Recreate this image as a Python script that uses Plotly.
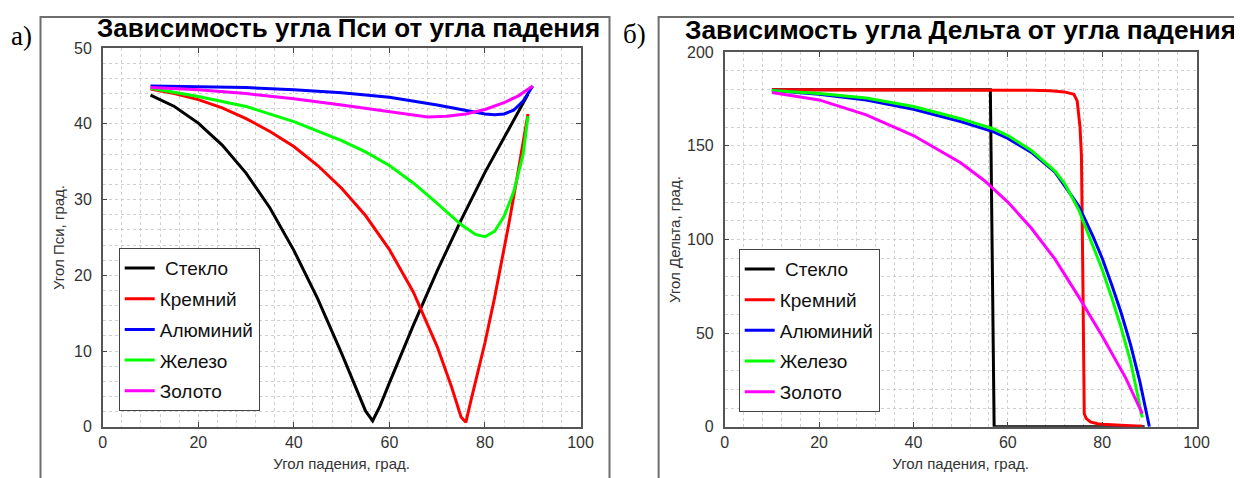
import plotly.graph_objects as go

W, H = 1242, 478

# ---------------- data: Psi (left panel) ----------------
names = ["\u00a0Стекло", "Кремний", "Алюминий", "Железо", "Золото"]
colors = ["#000000", "#ff0000", "#0000ff", "#00ff00", "#ff00ff"]

psi_x_glass = [10, 15, 20, 25, 30, 35, 40, 45, 50, 53, 55, 56.5, 58, 60, 65, 70, 75, 80, 85, 89]
psi_glass = [43.8, 42.3, 40.1, 37.2, 33.5, 28.9, 23.3, 16.9, 9.7, 5.1, 2.1, 0.8, 2.7, 5.8, 13.4, 20.6, 27.3, 33.6, 39.4, 43.9]

psi_x_si = [10, 15, 20, 25, 30, 35, 40, 45, 50, 55, 60, 65, 70, 73, 75, 76, 77, 78, 80, 82, 85, 87, 89]
psi_si = [44.6, 44.0, 43.2, 42.1, 40.7, 39.0, 37.0, 34.5, 31.5, 27.9, 23.4, 17.8, 10.6, 5.3, 1.3, 0.6, 3.3, 5.8, 11.1, 17.0, 26.8, 33.9, 41.3]

psi_x_al = [10, 20, 30, 40, 50, 60, 65, 70, 75, 78, 80, 82, 84, 86, 88, 90]
psi_al = [45.0, 44.9, 44.8, 44.5, 44.1, 43.5, 43.0, 42.5, 41.9, 41.5, 41.3, 41.2, 41.3, 41.8, 43.0, 45.0]

psi_x_fe = [10, 20, 30, 40, 50, 55, 60, 65, 70, 75, 78, 80, 82, 84, 86, 88, 89]
psi_fe = [44.7, 43.6, 42.3, 40.3, 37.8, 36.3, 34.5, 32.2, 29.5, 26.7, 25.4, 25.1, 25.8, 27.8, 31.0, 36.0, 41.0]

psi_x_au = [10, 20, 30, 40, 50, 60, 65, 68, 72, 76, 80, 84, 87, 90]
psi_au = [44.8, 44.5, 44.0, 43.3, 42.5, 41.6, 41.1, 40.9, 41.0, 41.3, 41.9, 42.8, 43.7, 45.0]

# ---------------- data: Delta (right panel) ----------------
delta_x_glass = [10, 20, 30, 40, 50, 56.3, 57.1, 60, 70, 80, 89]
delta_glass = [180, 180, 180, 180, 180, 180, 0, 0, 0, 0, 0]

delta_x_si = [10, 20, 30, 40, 50, 60, 65, 69, 72, 74, 74.7, 75.3, 75.6, 75.9, 76.2, 76.6, 77.5, 79, 80, 85, 88.5]
delta_si = [180, 180, 180, 180, 180, 179.9, 179.7, 179.4, 178.8, 177.5, 174, 160, 145, 80, 7, 4.5, 2.6, 1.7, 1.4, 0.7, 0.3]

delta_x_al = [10, 20, 30, 40, 50, 57, 60, 65, 70, 75, 78, 80, 82, 84, 86, 88, 90]
delta_al = [179.5, 177.5, 174.5, 169.5, 163, 157.5, 154, 146.5, 136, 118, 102, 90, 76, 61, 44, 24, 0]

delta_x_fe = [10, 20, 30, 40, 50, 57, 60, 65, 70, 72, 75, 78, 80, 82, 84, 86, 88.5]
delta_fe = [179.6, 178, 175.5, 171, 164.5, 159, 155.5, 147.5, 136.5, 130, 116, 97, 84, 69, 53, 35, 5]

delta_x_au = [10, 20, 30, 40, 50, 55, 60, 65, 70, 75, 80, 85, 88.5]
delta_au = [178.5, 174.5, 166.5, 155.5, 141, 131.5, 120, 106, 89.5, 69.5, 48.5, 26, 7]

psi_sets = [(psi_x_glass, psi_glass), (psi_x_si, psi_si), (psi_x_al, psi_al),
            (psi_x_fe, psi_fe), (psi_x_au, psi_au)]
delta_sets = [(delta_x_glass, delta_glass), (delta_x_si, delta_si), (delta_x_al, delta_al),
              (delta_x_fe, delta_fe), (delta_x_au, delta_au)]

fig = go.Figure()
for i, (xs, ys) in enumerate(psi_sets):
    fig.add_trace(go.Scatter(x=xs, y=ys, mode="lines", name=names[i],
                             line=dict(color=colors[i], width=3),
                             xaxis="x", yaxis="y", legend="legend",
                             legendgroup="a%d" % i))
for i, (xs, ys) in enumerate(delta_sets):
    fig.add_trace(go.Scatter(x=xs, y=ys, mode="lines", name=names[i],
                             line=dict(color=colors[i], width=3),
                             xaxis="x2", yaxis="y2", legend="legend2",
                             legendgroup="b%d" % i))

FONT = "Liberation Sans"
grid = "#d0d0d0"


def px(x):
    return x / W


def py(y):
    return 1 - y / H


def axis_style(dtick, minor_dtick):
    return dict(showline=True, linecolor="#555555", linewidth=1.5, mirror="ticks",
                ticks="inside", ticklen=5, tickwidth=1, tickcolor="#444444",
                showgrid=True, gridcolor=grid, griddash="dot", gridwidth=1,
                zeroline=False, dtick=dtick, tick0=0,
                tickfont=dict(family=FONT, size=16, color="#333333"),
                minor=dict(dtick=minor_dtick, tick0=0, showgrid=True, gridcolor=grid,
                           griddash="dot", gridwidth=1, ticks=""),
                fixedrange=True)


title_font = dict(family=FONT, size=15, color="#333333")

xa = axis_style(20, 4)
xa.update(domain=[px(92), px(576.4)], range=[0, 100], anchor="y",
          title=dict(text="Угол падения, град.", font=title_font, standoff=9))
ya = axis_style(10, 2)
ya.update(domain=[py(426), py(33.3)], range=[0, 50], anchor="x", ticklabelstandoff=6,
          title=dict(text="Угол Пси, град.", font=title_font, standoff=6))
xa2 = axis_style(20, 4)
xa2.update(domain=[px(722.6), px(1201)], range=[0, 100], anchor="y2",
           title=dict(text="Угол падения, град.", font=title_font, standoff=9))
ya2 = axis_style(50, 10)
ya2.update(domain=[py(426), py(37.5)], range=[0, 200], anchor="x2", ticklabelstandoff=6,
           title=dict(text="Угол Дельта, град.", font=title_font, standoff=3))

legend_common = dict(xanchor="left", yanchor="top", bgcolor="white", bordercolor="#444444",
                     borderwidth=1, font=dict(family=FONT, size=19, color="#111111"),
                     tracegroupgap=3, itemwidth=30)

fig.update_layout(
    width=W, height=H, margin=dict(l=0, r=0, t=0, b=0),
    paper_bgcolor="white", plot_bgcolor="white", showlegend=True,
    xaxis=xa, yaxis=ya, xaxis2=xa2, yaxis2=ya2,
    legend=dict(x=px(108.2), y=py(240.7), **legend_common),
    legend2=dict(x=px(736.8), y=py(241.7), **legend_common),
    shapes=[
        dict(type="rect", xref="paper", yref="paper", x0=px(28.9), x1=px(605.8),
             y0=-0.05, y1=py(1), line=dict(color="#6e6e6e", width=2)),
        dict(type="rect", xref="paper", yref="paper", x0=px(655.6), x1=px(1240.5),
             y0=-0.05, y1=py(1), line=dict(color="#6e6e6e", width=2)),
    ],
    annotations=[
        dict(text="<b>Зависимость угла Пси от угла падения</b>", xref="paper", yref="paper",
             x=px(340.7), y=py(12), xanchor="center", yanchor="middle", showarrow=False,
             font=dict(family=FONT, size=26, color="#000000")),
        dict(text="<b>Зависимость угла Дельта от угла падения</b>", xref="paper", yref="paper",
             x=px(961.3), y=py(15), xanchor="center", yanchor="middle", showarrow=False,
             font=dict(family=FONT, size=26.3, color="#000000")),
        dict(text="а)", xref="paper", yref="paper", x=px(9.8), y=py(20.8),
             xanchor="center", yanchor="middle", showarrow=False,
             font=dict(family="Liberation Serif", size=27, color="#000000")),
        dict(text="б)", xref="paper", yref="paper", x=px(631.2), y=py(18.8),
             xanchor="center", yanchor="middle", showarrow=False,
             font=dict(family="Liberation Serif", size=27, color="#000000")),
    ],
)

fig.write_html("out.html")
